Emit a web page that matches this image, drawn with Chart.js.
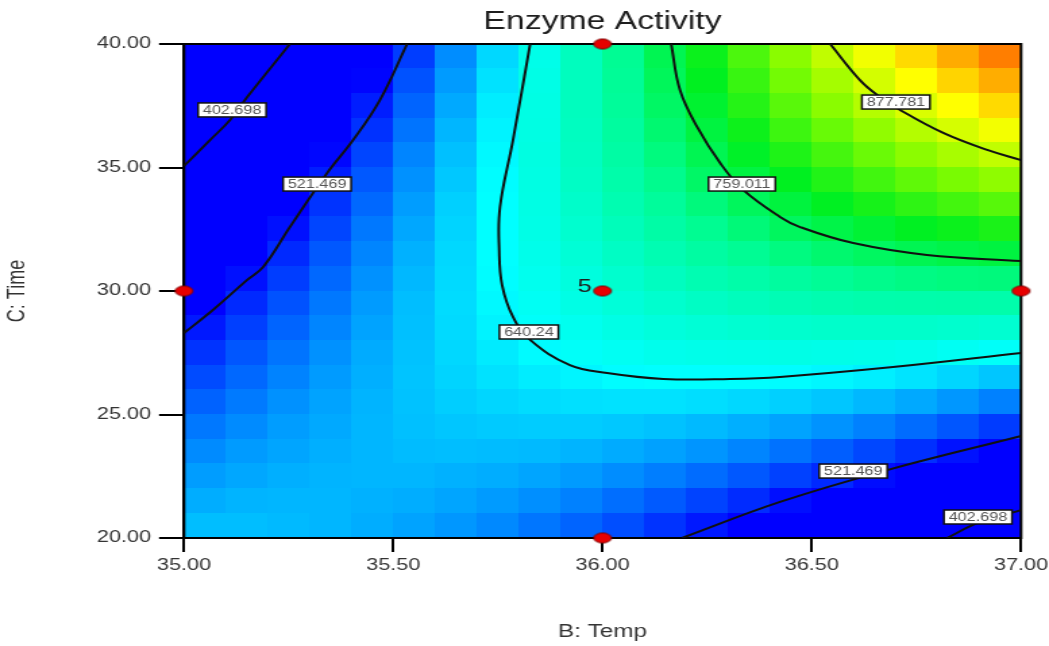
<!DOCTYPE html>
<html>
<head>
<meta charset="utf-8">
<title>Enzyme Activity</title>
<script src="https://cdn.jsdelivr.net/npm/chart.js@4/dist/chart.umd.min.js"></script>
<style>
  html, body { margin: 0; padding: 0; background: #fff; overflow: hidden; }
</style>
</head>
<body>
<canvas id="enzymeChart" width="777" height="646" style="width:1049px;height:646px;"></canvas>
<script>
// cell centres of the response grid: B (Temp) across, C (Time) from top row down
const tempCenters = [35.05, 35.15, 35.25, 35.35, 35.45, 35.55, 35.65, 35.75, 35.85, 35.95,
                     36.05, 36.15, 36.25, 36.35, 36.45, 36.55, 36.65, 36.75, 36.85, 36.95];
const timeCenters = [39.5, 38.5, 37.5, 36.5, 35.5, 34.5, 33.5, 32.5, 31.5, 30.5,
                     29.5, 28.5, 27.5, 26.5, 25.5, 24.5, 23.5, 22.5, 21.5, 20.5];

// predicted enzyme activity per cell, one row per timeCenters entry
const activity = [
  [334, 378, 422, 464, 505, 545, 584, 621, 658, 693, 726, 759, 790, 820, 849, 877, 903, 929, 953, 976],
  [355, 398, 439, 479, 517, 555, 591, 626, 660, 693, 724, 755, 784, 811, 838, 863, 887, 910, 932, 952],
  [376, 416, 455, 493, 529, 564, 598, 631, 662, 693, 722, 750, 776, 802, 826, 849, 871, 891, 910, 929],
  [396, 434, 470, 505, 539, 572, 604, 634, 663, 691, 718, 744, 768, 791, 813, 833, 853, 871, 888, 904],
  [415, 451, 485, 518, 549, 580, 609, 637, 664, 689, 714, 737, 759, 780, 799, 817, 834, 850, 865, 878],
  [434, 467, 498, 529, 558, 586, 613, 639, 663, 687, 709, 729, 749, 767, 784, 800, 815, 829, 841, 852],
  [451, 482, 511, 540, 566, 592, 617, 640, 662, 683, 703, 721, 738, 754, 769, 783, 795, 806, 816, 825],
  [468, 496, 523, 549, 574, 597, 619, 640, 660, 679, 696, 712, 727, 740, 753, 764, 774, 783, 790, 797],
  [484, 510, 535, 558, 580, 602, 621, 640, 657, 673, 688, 702, 715, 726, 736, 745, 752, 759, 764, 768],
  [499, 523, 545, 566, 586, 605, 622, 639, 654, 667, 680, 691, 702, 710, 718, 725, 730, 734, 737, 738],
  [514, 535, 555, 574, 591, 608, 623, 637, 649, 661, 671, 680, 688, 694, 700, 704, 707, 708, 709, 708],
  [527, 546, 564, 580, 595, 609, 622, 634, 644, 653, 661, 668, 673, 677, 680, 682, 682, 682, 680, 677],
  [540, 557, 572, 586, 599, 610, 621, 630, 638, 645, 650, 655, 658, 659, 660, 659, 658, 655, 650, 645],
  [552, 566, 579, 591, 601, 611, 619, 626, 631, 635, 639, 641, 641, 641, 639, 636, 632, 627, 620, 612],
  [563, 575, 586, 595, 603, 610, 616, 620, 623, 625, 626, 626, 624, 621, 617, 612, 605, 598, 589, 578],
  [574, 583, 592, 598, 604, 609, 612, 614, 615, 615, 613, 610, 606, 601, 595, 587, 578, 568, 557, 544],
  [583, 591, 596, 601, 604, 607, 608, 607, 606, 603, 599, 594, 588, 580, 571, 561, 550, 538, 524, 509],
  [592, 597, 601, 603, 604, 604, 602, 600, 596, 591, 584, 577, 568, 558, 547, 535, 521, 506, 490, 473],
  [600, 603, 604, 604, 602, 600, 596, 591, 585, 578, 569, 559, 548, 536, 522, 507, 492, 474, 456, 436],
  [608, 608, 606, 604, 600, 595, 589, 582, 573, 564, 553, 540, 527, 512, 496, 479, 461, 442, 421, 399]
];

// contour lines as [temp, time] pairs
const contour402Upper = [[35.253, 40], [35.151, 37.85], [35.110, 36.92], [35.062, 36.11], [35.0, 35.06]];
const contour521Upper = [[35.533, 40], [35.468, 37.73], [35.404, 36.11], [35.342, 34.78], [35.253, 32.59],
                         [35.189, 30.97], [35.151, 30.45], [35.069, 29.23], [35.0, 28.30]];
const contour640 = [[35.827, 40], [35.786, 36.11], [35.755, 33.40], [35.753, 31.66], [35.760, 30.24],
                    [35.786, 28.95], [35.827, 28.02], [35.922, 27.00], [36.011, 26.68], [36.145, 26.44],
                    [36.305, 26.44], [36.424, 26.52], [36.694, 26.92], [37.0, 27.49]];
const contour759 = [[36.164, 40], [36.185, 38.14], [36.226, 36.64], [36.281, 35.18], [36.336, 34.09],
                    [36.424, 33.00], [36.472, 32.59], [36.599, 31.94], [36.775, 31.46], [37.0, 31.21]];
const contour877 = [[36.544, 40], [36.615, 38.54], [36.656, 37.94], [36.711, 37.33], [36.814, 36.40],
                    [36.919, 35.71], [37.0, 35.30]];
const contour521Lower = [[36.190, 20], [36.424, 21.46], [36.680, 22.75], [37.0, 24.13]];
const contour402Lower = [[36.823, 20], [36.897, 20.61], [37.0, 21.13]];

const contourLabels = [
  { text: '402.698', temp: 35.115, time: 37.33 },
  { text: '521.469', temp: 35.318, time: 34.33 },
  { text: '640.24',  temp: 35.824, time: 28.34 },
  { text: '759.011', temp: 36.333, time: 34.33 },
  { text: '877.781', temp: 36.701, time: 37.65 },
  { text: '521.469', temp: 36.599, time: 22.71 },
  { text: '402.698', temp: 36.897, time: 20.85 }
];

// design points, the centre point was run 5 times
const designTemp = [36, 36, 35, 37, 36];
const designTime = [40, 20, 30, 30, 30];
const centerRuns = 5;

const FONT = 'Arial, "Liberation Sans", sans-serif';

// blue -> cyan -> green -> yellow -> red
const colorStops = [
  [515, [0, 0, 255]],
  [640, [0, 255, 255]],
  [725, [0, 252, 150]],
  [785, [0, 240, 30]],
  [845, [130, 252, 0]],
  [910, [255, 255, 0]],
  [1040, [255, 0, 0]]
];

function activityColor(v) {
  const rgb = c => `rgb(${c[0]},${c[1]},${c[2]})`;
  if (v <= colorStops[0][0]) return rgb(colorStops[0][1]);
  for (let k = 1; k < colorStops.length; k++) {
    const [v1, c1] = colorStops[k];
    if (v <= v1) {
      const [v0, c0] = colorStops[k - 1];
      const t = (v - v0) / (v1 - v0);
      return rgb(c0.map((c, n) => Math.round(c + (c1[n] - c) * t)));
    }
  }
  return rgb(colorStops[colorStops.length - 1][1]);
}

function toPoints(pairs) {
  return pairs.map(p => ({ x: p[0], y: p[1] }));
}

// red oval marker for the design points
function makeMarker() {
  const c = document.createElement('canvas');
  c.width = 16;
  c.height = 13;
  const g = c.getContext('2d');
  g.beginPath();
  g.ellipse(8, 6.5, 6.5, 5, 0, 0, Math.PI * 2);
  g.fillStyle = '#e60000';
  g.fill();
  g.lineWidth = 1;
  g.strokeStyle = '#7a0000';
  g.stroke();
  return c;
}

const heatmapPlugin = {
  id: 'heatmap',
  beforeDatasetsDraw(chart) {
    const { ctx, chartArea, scales: { x, y } } = chart;
    const halfW = (tempCenters[1] - tempCenters[0]) / 2;
    const halfH = (timeCenters[0] - timeCenters[1]) / 2;
    ctx.save();
    activity.forEach((row, j) => {
      row.forEach((v, i) => {
        const left = Math.floor(x.getPixelForValue(tempCenters[i] - halfW));
        const right = Math.ceil(x.getPixelForValue(tempCenters[i] + halfW));
        const top = Math.floor(y.getPixelForValue(timeCenters[j] + halfH));
        const bottom = Math.ceil(y.getPixelForValue(timeCenters[j] - halfH));
        ctx.fillStyle = activityColor(v);
        ctx.fillRect(left, top, right - left, bottom - top);
      });
    });
    ctx.strokeStyle = '#000';
    ctx.lineWidth = 2;
    ctx.strokeRect(chartArea.left, chartArea.top, chartArea.width, chartArea.height);
    ctx.restore();
  }
};

const annotationPlugin = {
  id: 'annotations',
  afterDatasetsDraw(chart) {
    const { ctx, chartArea, scales: { x, y } } = chart;
    ctx.save();
    ctx.font = '12px ' + FONT;
    ctx.textAlign = 'center';
    ctx.textBaseline = 'middle';
    contourLabels.forEach(l => {
      const px = x.getPixelForValue(l.temp);
      const py = y.getPixelForValue(l.time);
      const w = ctx.measureText(l.text).width + 7;
      const h = 14;
      ctx.fillStyle = '#fff';
      ctx.fillRect(px - w / 2, py - h / 2, w, h);
      ctx.strokeStyle = '#111';
      ctx.lineWidth = 1.5;
      ctx.strokeRect(px - w / 2, py - h / 2, w, h);
      ctx.fillStyle = '#555';
      ctx.fillText(l.text, px, py + 0.5);
    });

    // replicate count beside the centre point
    const cx = x.getPixelForValue(designTemp[4]);
    const cy = y.getPixelForValue(designTime[4]);
    ctx.font = '19px ' + FONT;
    ctx.fillStyle = '#1e1e1e';
    ctx.textAlign = 'right';
    ctx.textBaseline = 'alphabetic';
    ctx.fillText(String(centerRuns), cx - 8, cy + 1);

    // chart title centred over the plot
    ctx.font = '25px ' + FONT;
    ctx.textAlign = 'center';
    ctx.textBaseline = 'middle';
    ctx.fillText('Enzyme Activity', (chartArea.left + chartArea.right) / 2, 22);
    ctx.restore();
  }
};

const contourStyle = {
  showLine: true,
  borderColor: '#111',
  borderWidth: 2,
  pointRadius: 0,
  tension: 0.4,
  fill: false
};

new Chart(document.getElementById('enzymeChart'), {
  type: 'scatter',
  data: {
    datasets: [
      {
        label: 'Design points',
        data: designTemp.map((t, i) => ({ x: t, y: designTime[i] })),
        pointStyle: makeMarker(),
        pointRadius: 7,
        clip: false
      },
      { label: '402.698', data: toPoints(contour402Upper), ...contourStyle },
      { label: '521.469', data: toPoints(contour521Upper), ...contourStyle },
      { label: '640.24', data: toPoints(contour640), ...contourStyle },
      { label: '759.011', data: toPoints(contour759), ...contourStyle },
      { label: '877.781', data: toPoints(contour877), ...contourStyle },
      { label: '521.469', data: toPoints(contour521Lower), ...contourStyle },
      { label: '402.698', data: toPoints(contour402Lower), ...contourStyle }
    ]
  },
  options: {
    responsive: false,
    animation: false,
    devicePixelRatio: 1,
    layout: { padding: { top: 44, right: 20.7, left: 0, bottom: 0 } },
    plugins: {
      legend: { display: false },
      tooltip: { enabled: false },
      title: { display: false }
    },
    scales: {
      x: {
        type: 'linear',
        min: 35,
        max: 37,
        ticks: {
          stepSize: 0.5,
          callback: v => v.toFixed(2),
          color: '#333',
          font: { family: FONT, size: 16 },
          padding: 4,
          maxRotation: 0
        },
        grid: { drawOnChartArea: false, tickLength: 14, color: '#000', lineWidth: 2 },
        border: { color: '#000', width: 2 },
        title: {
          display: true,
          text: 'B: Temp',
          color: '#333',
          font: { family: FONT, size: 18 },
          padding: { top: 0, bottom: 3 }
        },
        afterFit(scale) {
          scale.height = 108;
          scale.paddingLeft = 0;
          scale.paddingRight = 0;
        }
      },
      y: {
        type: 'linear',
        min: 20,
        max: 40,
        ticks: {
          stepSize: 5,
          callback: v => v.toFixed(2),
          color: '#333',
          font: { family: FONT, size: 16 },
          padding: 6
        },
        grid: { drawOnChartArea: false, tickLength: 18.5, color: '#000', lineWidth: 2 },
        border: { color: '#000', width: 2 },
        title: {
          display: true,
          text: 'C: Time',
          color: '#333',
          font: { family: FONT, size: 18 },
          padding: { top: 2.5, bottom: 0 }
        },
        afterFit(scale) { scale.width = 136.3; }
      }
    }
  },
  plugins: [heatmapPlugin, annotationPlugin]
});
</script>
</body>
</html>
